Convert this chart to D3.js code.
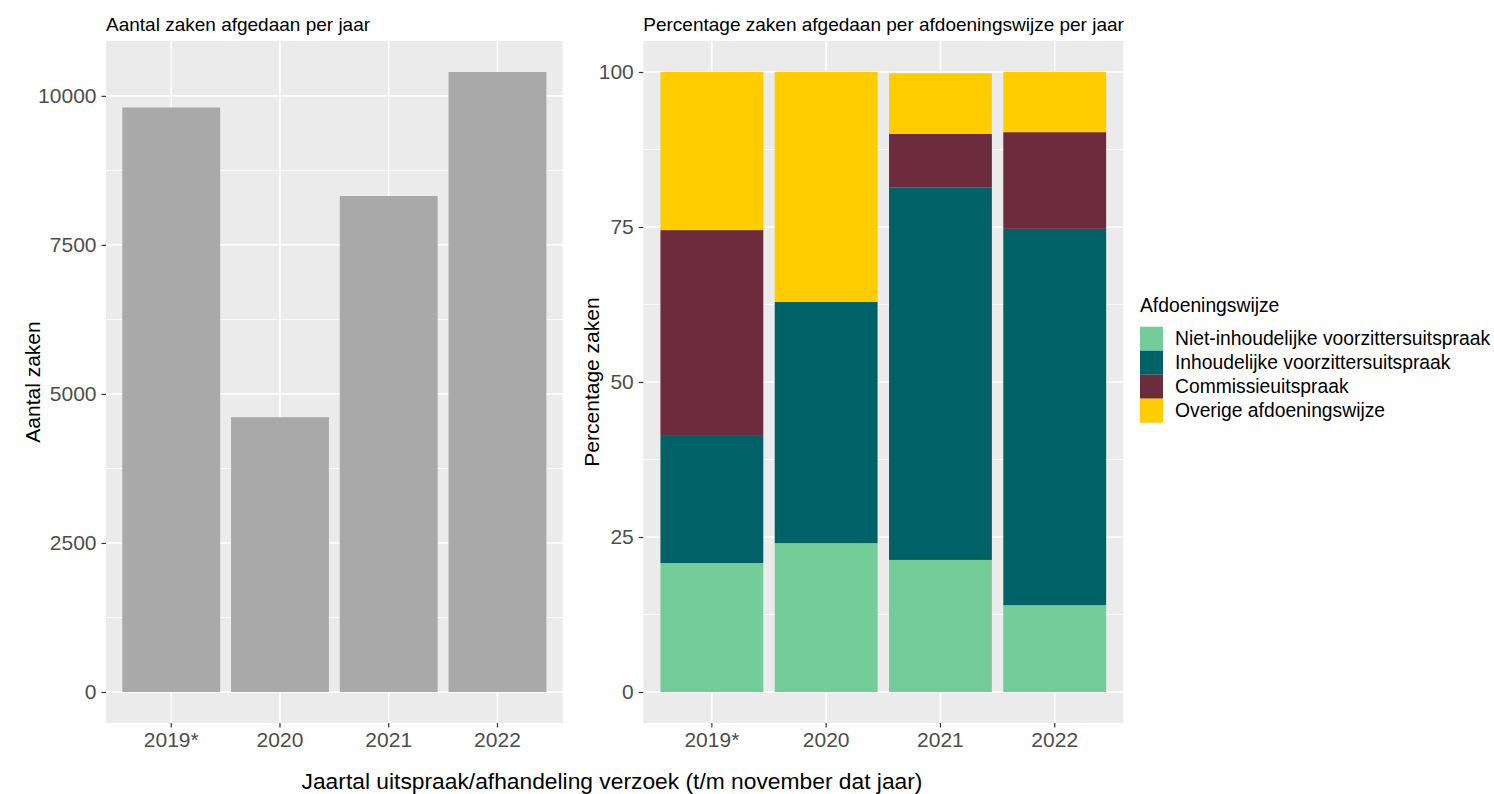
<!DOCTYPE html>
<meta charset="utf-8">
<script src="https://d3js.org/d3.v7.min.js"></script>
<style>
  body { margin: 0; background: #fff; }
  text { font-family: "Liberation Sans", Arial, sans-serif; }
</style>
<svg width="1494" height="794"></svg>
<script>
// data
var years = ["2019*", "2020", "2021", "2022"];
var aantalZaken = [9805, 4610, 8320, 10400];

var categorieen = ["Niet-inhoudelijke voorzittersuitspraak", "Inhoudelijke voorzittersuitspraak",
                   "Commissieuitspraak", "Overige afdoeningswijze"];
var kleuren = ["#74cc98", "#006266", "#6d2c3e", "#ffcc00"];
var nietInhoudelijk = [20.8, 24.0, 21.3, 14.0];
var inhoudelijk = [20.5, 38.9, 60.1, 60.7];
var commissie = [33.2, 0, 8.6, 15.6];
var overige = [25.5, 37.1, 9.8, 9.7];

var ticksAantal = [0, 2500, 5000, 7500, 10000];
var ticksPerc = [0, 25, 50, 75, 100];

var svg = d3.select("svg");
var top_ = 41, bottom_ = 723;

function panel(x0, x1, yDomain, yTicks, title, yTitle, yTitleX) {
  var x = d3.scaleBand().domain(years).range([x0, x1]).paddingInner(0.1).paddingOuter(0.15);
  var y = d3.scaleLinear().domain(yDomain).range([bottom_, top_]);
  var g = svg.append("g");

  g.append("rect").attr("x", x0).attr("y", top_).attr("width", x1 - x0).attr("height", bottom_ - top_)
    .attr("fill", "#ebebeb");

  // minor grid
  var minors = [];
  for (var i = 0; i < yTicks.length - 1; i++) minors.push((yTicks[i] + yTicks[i + 1]) / 2);
  g.selectAll(".minor").data(minors).enter().append("line")
    .attr("x1", x0).attr("x2", x1)
    .attr("y1", function(d) { return y(d); }).attr("y2", function(d) { return y(d); })
    .attr("stroke", "#fff").attr("stroke-width", 0.8);
  // major grid
  g.selectAll(".major").data(yTicks).enter().append("line")
    .attr("x1", x0).attr("x2", x1)
    .attr("y1", function(d) { return y(d); }).attr("y2", function(d) { return y(d); })
    .attr("stroke", "#fff").attr("stroke-width", 1.6);
  g.selectAll(".vmajor").data(years).enter().append("line")
    .attr("y1", top_).attr("y2", bottom_)
    .attr("x1", function(d) { return x(d) + x.bandwidth() / 2; })
    .attr("x2", function(d) { return x(d) + x.bandwidth() / 2; })
    .attr("stroke", "#fff").attr("stroke-width", 1.6);

  var ax = g.append("g").attr("transform", "translate(" + x0 + ",0)")
    .call(d3.axisLeft(y).tickValues(yTicks).tickFormat(d3.format("d")).tickSize(4.5).tickPadding(5));
  var bx = g.append("g").attr("transform", "translate(0," + bottom_ + ")")
    .call(d3.axisBottom(x).tickSize(4.5).tickPadding(5));
  [ax, bx].forEach(function(a) {
    a.select(".domain").remove();
    a.selectAll(".tick line").attr("stroke", "#333").attr("stroke-width", 1.2);
    a.selectAll(".tick text").attr("fill", "#4d4d4d").style("font-size", "21px");
  });

  g.append("text").attr("x", x0).attr("y", 31).text(title)
    .style("font-size", "19px").attr("fill", "#000");
  g.append("text").attr("transform", "translate(" + yTitleX + "," + ((top_ + bottom_) / 2) + ") rotate(-90)")
    .attr("text-anchor", "middle").text(yTitle).style("font-size", "21px").attr("fill", "#000");

  return { x: x, y: y, g: g };
}

// left panel: aantal zaken
var p1 = panel(106, 562.7, [-520, 10920], ticksAantal, "Aantal zaken afgedaan per jaar", "Aantal zaken", 40);
p1.g.selectAll(".bar").data(years).enter().append("rect")
  .attr("x", function(d) { return p1.x(d); })
  .attr("width", p1.x.bandwidth())
  .attr("y", function(d, i) { return p1.y(aantalZaken[i]); })
  .attr("height", function(d, i) { return p1.y(0) - p1.y(aantalZaken[i]); })
  .attr("fill", "#a9a9a9");

// right panel: percentages
var p2 = panel(643.3, 1123.3, [-5, 105], ticksPerc,
  "Percentage zaken afgedaan per afdoeningswijze per jaar", "Percentage zaken", 599);

var rows = years.map(function(yr, i) {
  return { jaar: yr, c0: nietInhoudelijk[i], c1: inhoudelijk[i], c2: commissie[i], c3: overige[i] };
});
var stack = d3.stack().keys(["c0", "c1", "c2", "c3"])(rows);

p2.g.selectAll(".serie").data(stack).enter().append("g")
  .attr("fill", function(d, i) { return kleuren[i]; })
  .selectAll("rect").data(function(d) { return d; }).enter().append("rect")
  .attr("x", function(d) { return p2.x(d.data.jaar); })
  .attr("width", p2.x.bandwidth())
  .attr("y", function(d) { return p2.y(d[1]); })
  .attr("height", function(d) { return p2.y(d[0]) - p2.y(d[1]); });

// shared x title
svg.append("text").attr("x", 612).attr("y", 789).attr("text-anchor", "middle")
  .text("Jaartal uitspraak/afhandeling verzoek (t/m november dat jaar)")
  .style("font-size", "22.8px").attr("fill", "#000");

// legend
var legend = svg.append("g").attr("transform", "translate(1140,0)");
legend.append("text").attr("x", 0).attr("y", 312).text("Afdoeningswijze")
  .style("font-size", "19.3px").attr("fill", "#000");
var item = legend.selectAll(".item").data(categorieen).enter().append("g")
  .attr("transform", function(d, i) { return "translate(0," + (326.7 + i * 24) + ")"; });
item.append("rect").attr("width", 23).attr("height", 24)
  .attr("fill", function(d, i) { return kleuren[i]; });
item.append("text").attr("x", 35).attr("y", 12).attr("dy", "0.35em").text(function(d) { return d; })
  .style("font-size", "19.3px").attr("fill", "#000");
</script>
